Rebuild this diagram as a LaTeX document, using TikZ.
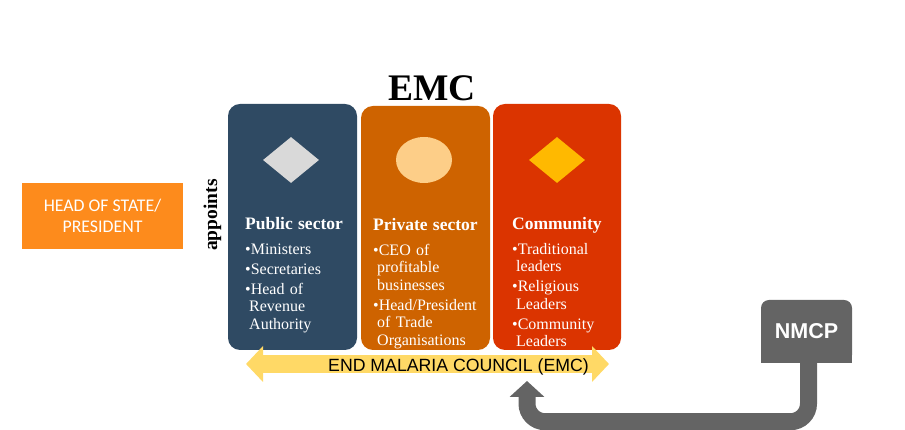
\documentclass[tikz,border=0pt]{standalone}
\usepackage{fontspec}
\setmainfont{Liberation Serif}
\setsansfont{Liberation Sans}
\newfontfamily\carlito{Carlito}
\usetikzlibrary{shapes.geometric,arrows.meta,backgrounds}
\definecolor{publicblue}{RGB}{47,74,99}
\definecolor{privateorange}{RGB}{206,99,0}
\definecolor{communityred}{RGB}{219,52,0}
\definecolor{headorange}{RGB}{253,139,28}
\definecolor{councilyellow}{RGB}{255,217,102}
\definecolor{nmcpgray}{RGB}{100,100,100}
\definecolor{diamondgray}{RGB}{217,217,217}
\definecolor{ellipsepeach}{RGB}{253,206,136}
\definecolor{diamondgold}{RGB}{255,185,0}
\newcommand{\sectorhead}[1]{{\bfseries\fontsize{17.5}{20}\selectfont #1\par}\vspace{5pt}}
\newcommand{\ent}{\par\vspace{2.5pt}\hangindent=4pt\hangafter=1\textbullet}

\begin{document}
\begin{tikzpicture}
	\tikzstyle{sector} = [rectangle, rounded corners=12pt, minimum width=129pt, minimum height=246pt, inner sep=0pt]
	\tikzstyle{icon} = [minimum width=56pt, minimum height=46pt, inner sep=0pt]
	\tikzstyle{list} = [anchor=north west, inner sep=0pt, text width=125pt, align=left, text=white, font=\fontsize{16}{17.5}\selectfont]
	
	\useasboundingbox (0,0) rectangle (905pt,430pt);
	
	\node (head) [rectangle, minimum width=161pt, minimum height=66pt, fill=headorange, text=white, align=center, font=\carlito\fontsize{17.8}{21}\selectfont, xshift=102.5pt, yshift=214pt] {HEAD OF STATE/\\PRESIDENT};
	\node (appoints) [xshift=212.5pt, yshift=215pt, rotate=90, inner sep=0pt, font=\bfseries\fontsize{19.5}{22}\selectfont] {appoints};
	
	\node (emc) [inner sep=0pt, font=\bfseries\fontsize{37.5}{40}\selectfont, xshift=432pt, yshift=341.5pt] {EMC};
	
	\node (public) [sector, fill=publicblue, xshift=292.5pt, yshift=203pt] {};
	\node (private) [sector, fill=privateorange, minimum height=244pt, xshift=425.5pt, yshift=202pt] {};
	\node (community) [sector, fill=communityred, minimum width=128pt, xshift=557pt, yshift=203pt] {};
	
	\node (publicicon) [icon, diamond, fill=diamondgray, xshift=291pt, yshift=270pt] {};
	\node (privateicon) [icon, ellipse, fill=ellipsepeach, xshift=424pt, yshift=270pt] {};
	\node (communityicon) [icon, diamond, fill=diamondgold, xshift=557pt, yshift=270pt] {};
	
	\node (publictext) [list, xshift=245pt, yshift=213pt] {\sectorhead{Public sector}\ent Ministers\ent Secretaries\ent Head of\newline Revenue\newline Authority\par};
	\node (privatetext) [list, xshift=373pt, yshift=212pt] {\sectorhead{Private sector}\ent CEO of\newline profitable\newline businesses\ent Head/President\newline of Trade\newline Organisations\par};
	\node (communitytext) [list, xshift=512pt, yshift=213pt] {\sectorhead{Community}\ent Traditional\newline leaders\ent Religious\newline Leaders\ent Community\newline Leaders\par};
	
	\coordinate (councilleft) at (246pt,66pt);
	\coordinate (councilright) at (609pt,66pt);
	\draw[councilyellow, line width=18pt, {Triangle[length=17pt,width=35pt]}-{Triangle[length=17pt,width=35pt]}] (councilleft) -- (councilright);
	\node (council) [anchor=base, inner sep=0pt, font=\sffamily\fontsize{17.7}{20}\selectfont, xshift=458.5pt, yshift=58pt] {END MALARIA COUNCIL (EMC)};
	
	\node (nmcp) [rectangle, rounded corners=8pt, minimum width=91pt, minimum height=63pt, fill=nmcpgray, text=white, font=\sffamily\bfseries\fontsize{21.5}{24}\selectfont, xshift=806.5pt, yshift=98.5pt] {NMCP};
	\begin{scope}[on background layer]
		\fill[nmcpgray] (nmcp.west) rectangle (nmcp.south east);
	\end{scope}
	
	\coordinate (nmcptip) at (527pt,49pt);
	\draw[nmcpgray, line width=17pt, rounded corners=18pt, -{Triangle[length=16pt,width=34pt]}] ([xshift=2pt]nmcp.south) -- ++(0,-58.5pt) -| (nmcptip);
	
\end{tikzpicture}
\end{document}
